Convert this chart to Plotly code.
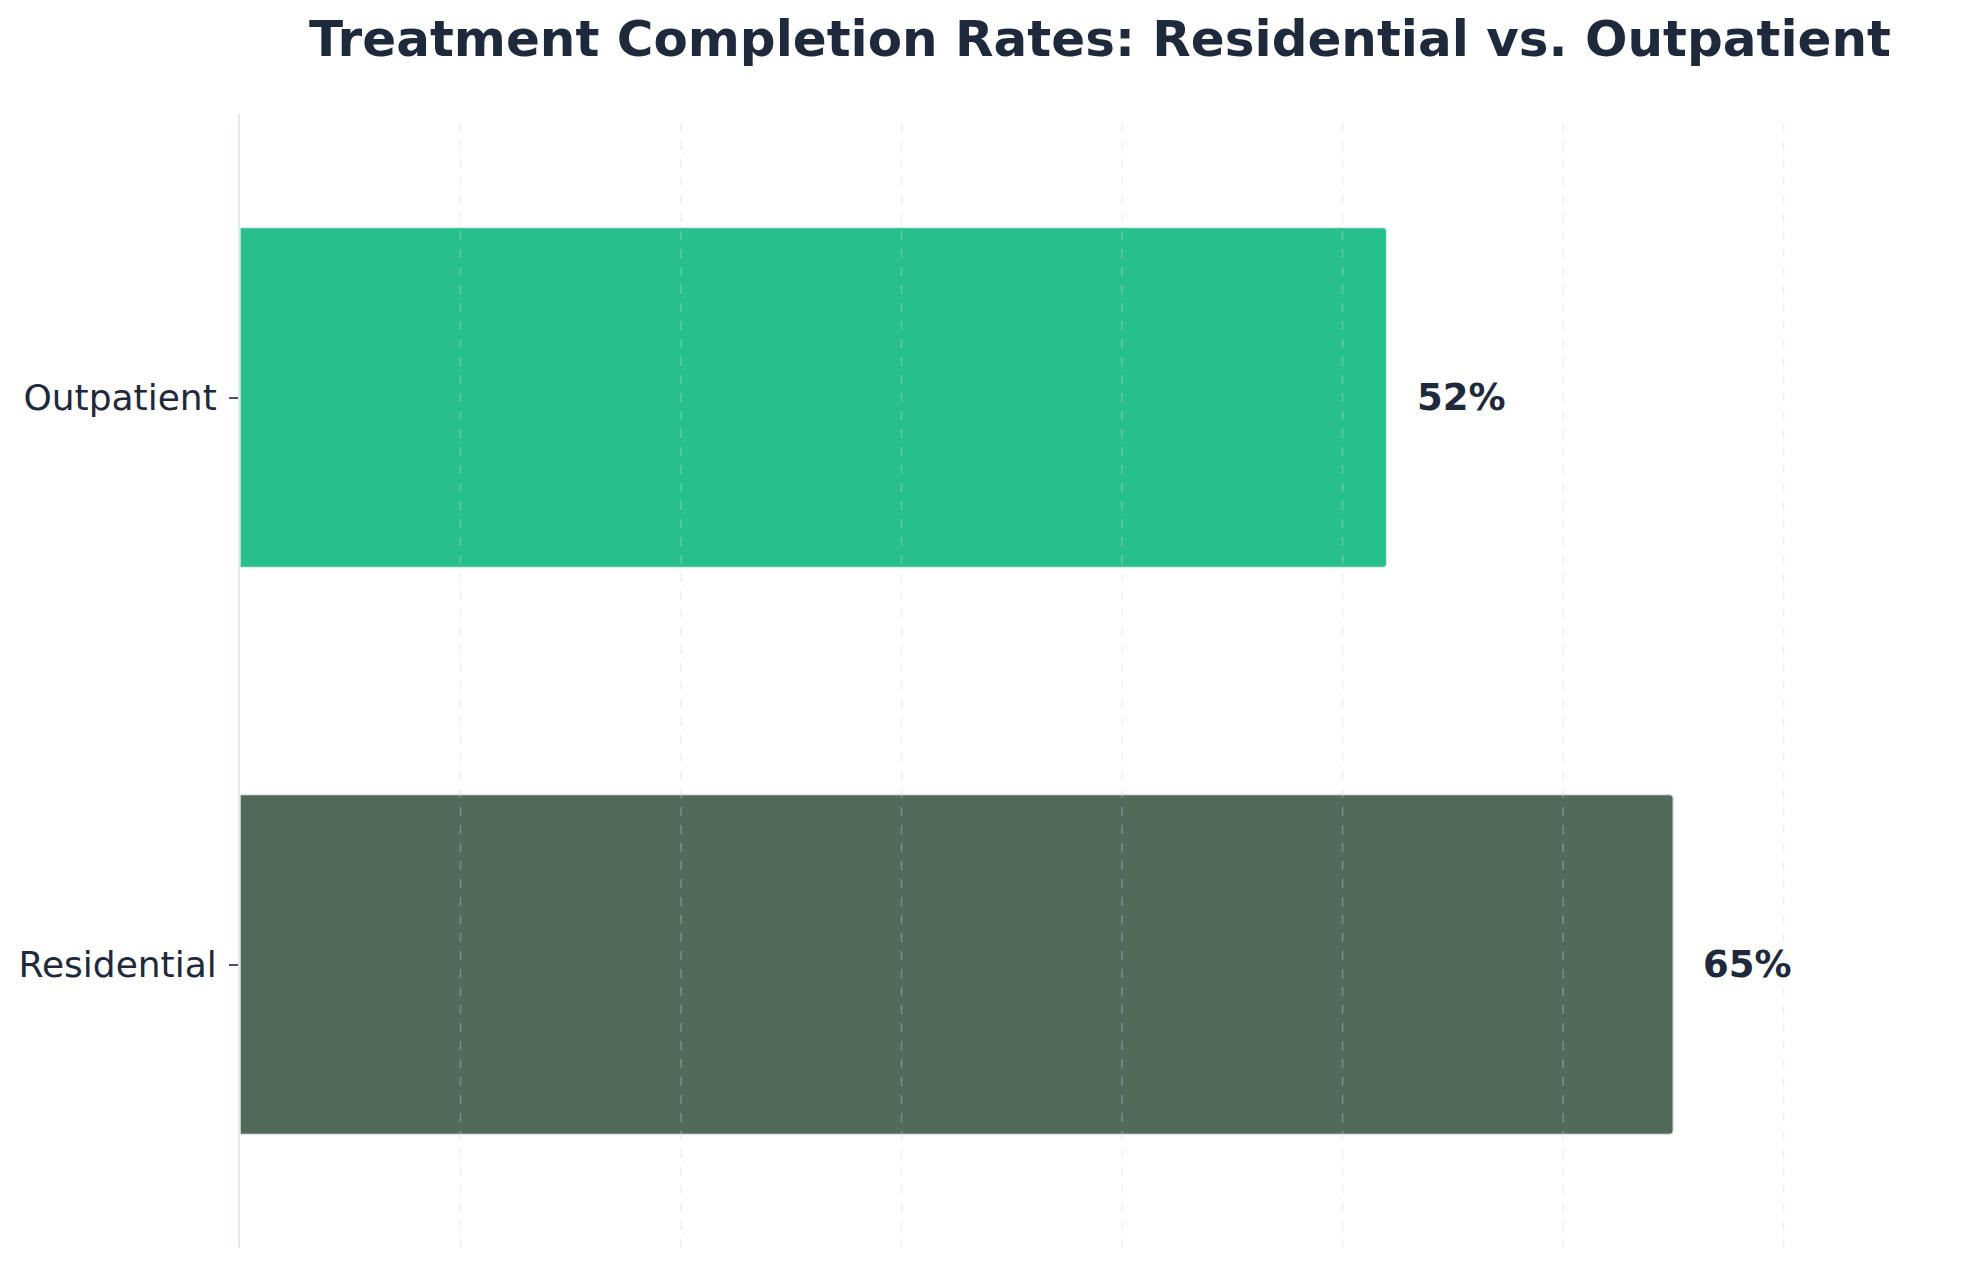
import plotly.graph_objects as go

# Data
programs = ["Residential", "Outpatient"]
completion_rates = [65, 52]
bar_colors = ["#516A5A", "#27C08D"]
grid_ticks = [10, 20, 30, 40, 50, 60, 70]

text_color = "#1E293B"
font_family = "DejaVu Sans"

fig = go.Figure()

fig.add_trace(go.Bar(
    y=programs,
    x=completion_rates,
    orientation="h",
    width=0.6,
    marker=dict(
        color=bar_colors,
        line=dict(color="#E2E8F0", width=1.5),
        cornerradius=4,
    ),
    hoverinfo="skip",
))

# value labels to the right of each bar
for prog, val in zip(programs, completion_rates):
    fig.add_annotation(
        x=val, y=prog,
        text=f"<b>{val}%</b>",
        showarrow=False,
        xanchor="left",
        xshift=28,
        font=dict(family=font_family, size=37, color=text_color),
    )

# dashed grid drawn over the bars
for t in grid_ticks:
    fig.add_shape(
        type="line",
        xref="x", yref="paper",
        x0=t, x1=t, y0=0, y1=1,
        line=dict(color="rgba(203,213,225,0.35)", width=1.5, dash="dash"),
        layer="above",
    )

fig.update_layout(
    title=dict(
        text="<b>Treatment Completion Rates: Residential vs. Outpatient</b>",
        x=0.5, xanchor="center", xref="paper",
        y=0.99, yanchor="top",
        font=dict(family=font_family, size=50, color=text_color),
    ),
    plot_bgcolor="white",
    paper_bgcolor="white",
    showlegend=False,
    margin=dict(l=232, r=11, t=106, b=12),
    font=dict(family=font_family, color=text_color),
)

fig.update_xaxes(
    range=[0, 78],
    showgrid=False,
    zeroline=False,
    showticklabels=False,
    showline=False,
    ticks="",
)

fig.update_yaxes(
    range=[-0.5, 1.5],
    showgrid=False,
    zeroline=False,
    showline=True,
    linecolor="#E2E8F0",
    linewidth=2,
    ticks="outside",
    ticklen=9,
    tickwidth=1.5,
    tickcolor="#4B5563",
    ticklabelstandoff=5,
    tickfont=dict(family=font_family, size=36, color=text_color),
)

fig.write_html("out.html")
